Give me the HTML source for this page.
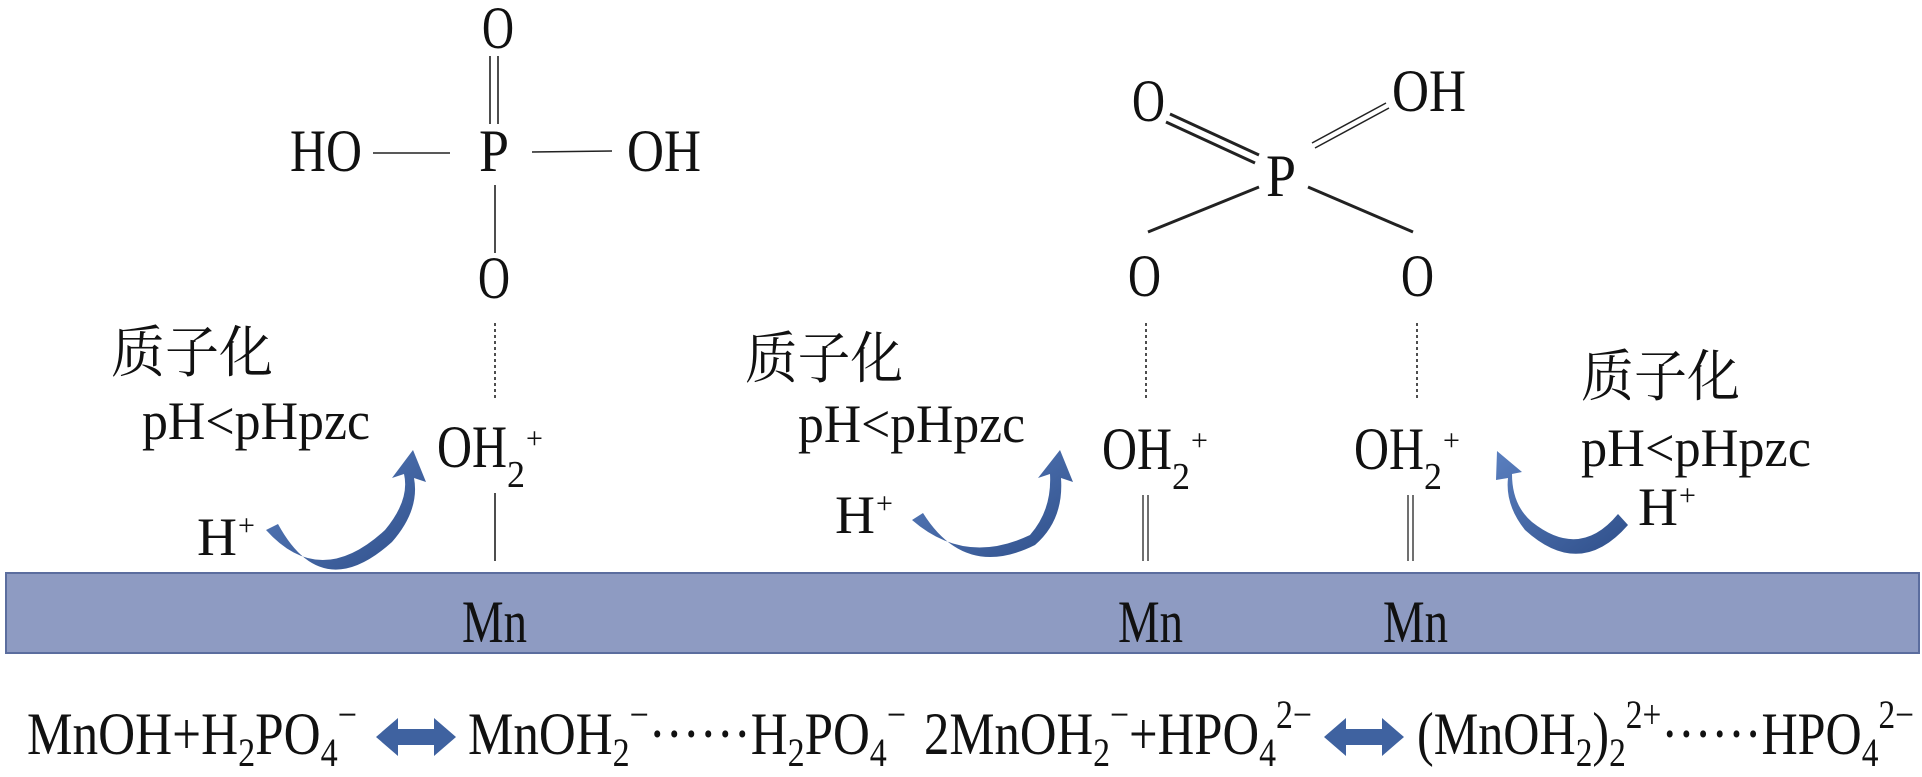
<!DOCTYPE html>
<html><head><meta charset="utf-8"><style>
html,body{margin:0;padding:0;background:#fff;}
svg{display:block;}
text{font-family:"Liberation Serif","Noto Serif CJK SC",serif;fill:#111;}
.c{font-family:"Liberation Serif","Noto Serif CJK SC","Noto Sans CJK SC",serif;}
</style></head><body>
<svg width="1922" height="777" viewBox="0 0 1922 777" xmlns="http://www.w3.org/2000/svg">
<defs>
<linearGradient id="g" x1="0" y1="0" x2="1" y2="1"><stop offset="0" stop-color="#5a7fbf"/><stop offset="1" stop-color="#2f4f8a"/></linearGradient>
</defs>
<rect x="6" y="573" width="1913" height="80" fill="#8e9bc2" stroke="#5b6d9e" stroke-width="2"/>
<g font-size="60">
<text x="462" y="642" textLength="65" lengthAdjust="spacingAndGlyphs">Mn</text>
<text x="1118" y="642" textLength="65" lengthAdjust="spacingAndGlyphs">Mn</text>
<text x="1383" y="642" textLength="65" lengthAdjust="spacingAndGlyphs">Mn</text>
</g>
<!-- left structure -->
<g font-size="60">
<text x="482" y="48" textLength="32" lengthAdjust="spacingAndGlyphs">O</text>
<text x="290" y="171" textLength="72" lengthAdjust="spacingAndGlyphs">HO</text>
<text x="479" y="171" textLength="30" lengthAdjust="spacingAndGlyphs">P</text>
<text x="627" y="171" textLength="74" lengthAdjust="spacingAndGlyphs">OH</text>
<text x="478" y="298" textLength="32" lengthAdjust="spacingAndGlyphs">O</text>
<text x="437" y="467" textLength="70" lengthAdjust="spacingAndGlyphs">OH</text>
<text x="507" y="487" font-size="38" textLength="18" lengthAdjust="spacingAndGlyphs">2</text>
<text x="526" y="448" font-size="30">+</text>
</g>
<g stroke="#222" stroke-width="1.6" fill="none">
<line x1="490" y1="56" x2="490" y2="124"/><line x1="498" y1="56" x2="498" y2="124"/>
<line x1="373" y1="153" x2="450" y2="153"/>
<line x1="532" y1="152" x2="612" y2="151"/>
<line x1="495" y1="185" x2="495" y2="253"/>
<line x1="495" y1="323" x2="495" y2="400" stroke-dasharray="3,3"/>
<line x1="495" y1="493" x2="495" y2="561"/>
</g>
<!-- right structure -->
<g font-size="60">
<text x="1132" y="121" textLength="33" lengthAdjust="spacingAndGlyphs">O</text>
<text x="1392" y="111" textLength="74" lengthAdjust="spacingAndGlyphs">OH</text>
<text x="1266" y="196" textLength="30" lengthAdjust="spacingAndGlyphs">P</text>
<text x="1128" y="296" textLength="33" lengthAdjust="spacingAndGlyphs">O</text>
<text x="1401" y="296" textLength="33" lengthAdjust="spacingAndGlyphs">O</text>
<text x="1102" y="469" textLength="70" lengthAdjust="spacingAndGlyphs">OH</text>
<text x="1172" y="489" font-size="38" textLength="18" lengthAdjust="spacingAndGlyphs">2</text>
<text x="1191" y="450" font-size="30">+</text>
<text x="1354" y="469" textLength="70" lengthAdjust="spacingAndGlyphs">OH</text>
<text x="1424" y="489" font-size="38" textLength="18" lengthAdjust="spacingAndGlyphs">2</text>
<text x="1443" y="450" font-size="30">+</text>
</g>
<g stroke="#222" fill="none">
<line x1="1170" y1="114" x2="1259" y2="155" stroke-width="3"/>
<line x1="1166" y1="122" x2="1255" y2="163" stroke-width="3"/>
<line x1="1312" y1="143" x2="1386" y2="103" stroke-width="1.5"/>
<line x1="1315" y1="148" x2="1389" y2="108" stroke-width="1.5"/>
<line x1="1259" y1="187" x2="1148" y2="232" stroke-width="3"/>
<line x1="1308" y1="187" x2="1413" y2="232" stroke-width="3"/>
<line x1="1146" y1="323" x2="1146" y2="400" stroke-width="1.6" stroke-dasharray="3,3"/>
<line x1="1417" y1="323" x2="1417" y2="400" stroke-width="1.6" stroke-dasharray="3,3"/>
<line x1="1143" y1="495" x2="1143" y2="561" stroke-width="1.3"/>
<line x1="1148" y1="495" x2="1148" y2="561" stroke-width="1.3"/>
<line x1="1408" y1="495" x2="1408" y2="561" stroke-width="1.3"/>
<line x1="1413" y1="495" x2="1413" y2="561" stroke-width="1.3"/>
</g>
<!-- labels -->
<g font-size="56">
<text class="c" x="111" y="372" textLength="162" lengthAdjust="spacingAndGlyphs">质子化</text>
<text class="c" x="745" y="378" textLength="158" lengthAdjust="spacingAndGlyphs">质子化</text>
<text class="c" x="1581" y="396" textLength="159" lengthAdjust="spacingAndGlyphs">质子化</text>
</g>
<g font-size="54">
<text x="142" y="439" textLength="228" lengthAdjust="spacingAndGlyphs">pH&lt;pHpzc</text>
<text x="798" y="442" textLength="227" lengthAdjust="spacingAndGlyphs">pH&lt;pHpzc</text>
<text x="1581" y="466" textLength="230" lengthAdjust="spacingAndGlyphs">pH&lt;pHpzc</text>
<text x="197" y="555" textLength="40" lengthAdjust="spacingAndGlyphs">H</text><text x="238" y="535" font-size="30">+</text>
<text x="835" y="533" textLength="40" lengthAdjust="spacingAndGlyphs">H</text><text x="876" y="513" font-size="30">+</text>
<text x="1638" y="525" textLength="40" lengthAdjust="spacingAndGlyphs">H</text><text x="1679" y="505" font-size="30">+</text>
</g>
<!-- curved arrows -->
<g fill="url(#g)">
<path d="M266,530 Q320,590 385,530 Q410,500 404,474 L392,478 L413,450 L426,482 L414,478 Q420,510 392,542 Q322,605 278,524 Z"/>
<path d="M912,520 Q965,566 1030,535 Q1052,510 1050,474 L1038,478 L1060,450 L1073,482 L1061,478 Q1064,520 1035,545 Q965,580 923,513 Z"/>
<path d="M1628,525 Q1580,580 1525,530 Q1505,505 1508,478 L1496,480 L1497,451 L1522,472 L1512,474 Q1512,505 1532,522 Q1580,560 1618,514 Z"/>
</g>
<!-- bottom equation -->
<g font-size="60">
<text x="27" y="754" textLength="330" lengthAdjust="spacingAndGlyphs">MnOH+H<tspan font-size="40" dy="12">2</tspan><tspan dy="-12">PO</tspan><tspan font-size="40" dy="12">4</tspan><tspan font-size="40" dy="-38">−</tspan></text>
<text x="468" y="754" textLength="438" lengthAdjust="spacingAndGlyphs">MnOH<tspan font-size="40" dy="12">2</tspan><tspan font-size="40" dy="-38">−</tspan><tspan dy="26">······H</tspan><tspan font-size="40" dy="12">2</tspan><tspan dy="-12">PO</tspan><tspan font-size="40" dy="12">4</tspan><tspan font-size="40" dy="-38">−</tspan></text>
<text x="924" y="754" textLength="388" lengthAdjust="spacingAndGlyphs">2MnOH<tspan font-size="40" dy="12">2</tspan><tspan font-size="40" dy="-38">−</tspan><tspan dy="26">+HPO</tspan><tspan font-size="40" dy="12">4</tspan><tspan font-size="40" dy="-38">2−</tspan></text>
<text x="1417" y="754" textLength="497" lengthAdjust="spacingAndGlyphs">(MnOH<tspan font-size="40" dy="12">2</tspan><tspan dy="-12">)</tspan><tspan font-size="40" dy="12">2</tspan><tspan font-size="40" dy="-38">2+</tspan><tspan dy="26">······HPO</tspan><tspan font-size="40" dy="12">4</tspan><tspan font-size="40" dy="-38">2−</tspan></text>
</g>
<g fill="#3f62a0">
<polygon points="376,737 398,718 398,729 434,729 434,718 456,737 434,756 434,745 398,745 398,756"/>
<polygon points="1324,737 1346,718 1346,729 1382,729 1382,718 1404,737 1382,756 1382,745 1346,745 1346,756"/>
</g>
</svg>
</body></html>
